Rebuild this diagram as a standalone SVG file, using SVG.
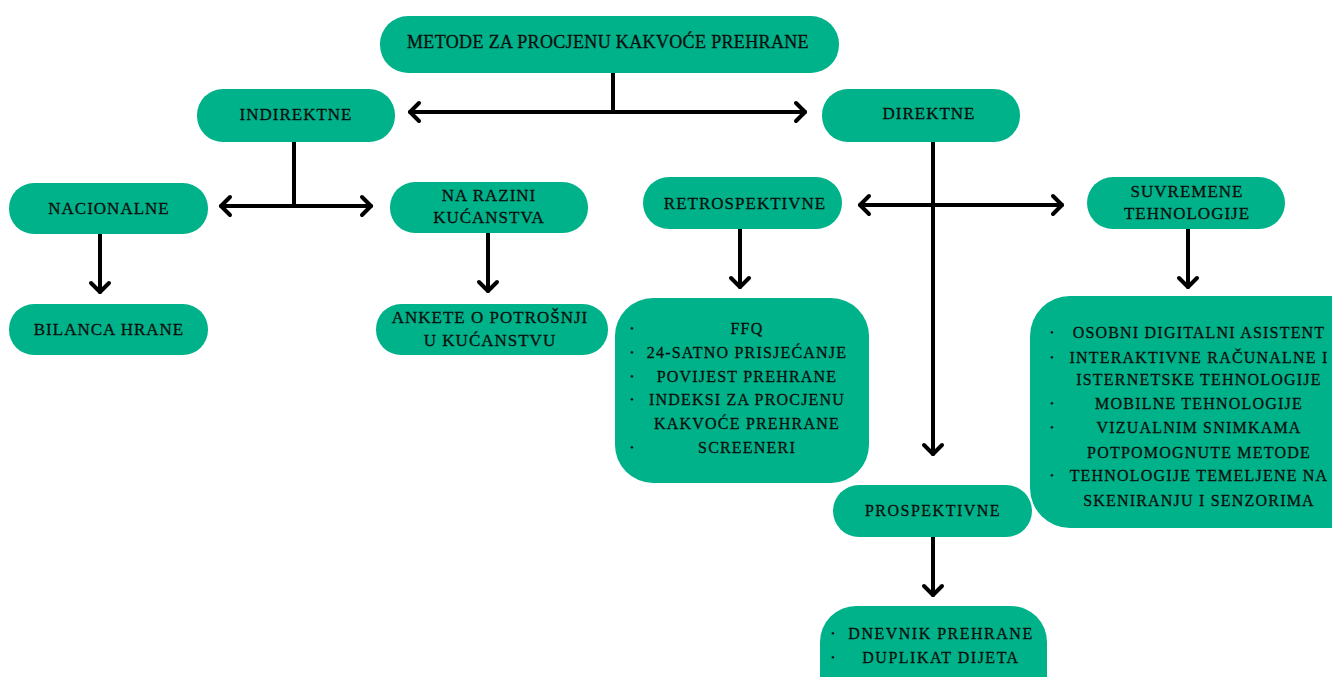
<svg xmlns="http://www.w3.org/2000/svg" width="1332" height="677" viewBox="0 0 1332 677">
  <style>
    .box { fill: #00B28A; }
    .t { font-family: "Liberation Serif", "Times New Roman", serif; font-size: 17px; fill: #0a0f0d; stroke: #0a0f0d; stroke-width: 0.3px; text-anchor: middle; letter-spacing: 1px; }
    .root { font-size: 18px; letter-spacing: 0.35px; }
    .l { font-family: "Liberation Serif", "Times New Roman", serif; font-size: 16px; fill: #0a0f0d; stroke: #0a0f0d; stroke-width: 0.3px; text-anchor: middle; letter-spacing: 1.2px; }
    .b { font-family: "Liberation Serif", "Times New Roman", serif; font-size: 11px; fill: #0a0f0d; text-anchor: middle; }
    .c { fill: none; stroke: #000; stroke-width: 4; stroke-linecap: round; stroke-linejoin: round; }
  </style>
  <defs>
    <marker id="ah" markerUnits="userSpaceOnUse" viewBox="-12 -12 16 24" markerWidth="16" markerHeight="24" refX="0" refY="0" orient="auto-start-reverse">
      <path d="M-9,-9 L0,0 L-9,9" fill="none" stroke="#000" stroke-width="4" stroke-linecap="round" stroke-linejoin="round"/>
    </marker>
  </defs>
  <rect width="1332" height="677" fill="#ffffff"/>

  <g id="connectors">
    <path class="c" d="M613,73 V112"/>
    <path class="c" d="M410,112 H805" marker-start="url(#ah)" marker-end="url(#ah)"/>
    <path class="c" d="M294,142 V206"/>
    <path class="c" d="M221,206 H371" marker-start="url(#ah)" marker-end="url(#ah)"/>
    <path class="c" d="M100,234 V292" marker-end="url(#ah)"/>
    <path class="c" d="M488,233 V291" marker-end="url(#ah)"/>
    <path class="c" d="M933,142 V454" marker-end="url(#ah)"/>
    <path class="c" d="M860,205 H1062" marker-start="url(#ah)" marker-end="url(#ah)"/>
    <path class="c" d="M740,229 V287" marker-end="url(#ah)"/>
    <path class="c" d="M1188,229 V287" marker-end="url(#ah)"/>
    <path class="c" d="M933,537 V595" marker-end="url(#ah)"/>
  </g>

  <g id="root">
    <rect class="box" x="380" y="16" width="459" height="57" rx="28"/>
    <text class="t root" x="608" y="48">METODE ZA PROCJENU KAKVOĆE PREHRANE</text>
  </g>

  <g id="indirektne">
    <rect class="box" x="197" y="89" width="198" height="53" rx="26"/>
    <text class="t" x="296" y="120">INDIREKTNE</text>
  </g>

  <g id="direktne">
    <rect class="box" x="822" y="89" width="198" height="53" rx="26"/>
    <text class="t" x="929" y="119">DIREKTNE</text>
  </g>

  <g id="nacionalne">
    <rect class="box" x="9" y="183" width="199" height="51" rx="25"/>
    <text class="t" x="109" y="214">NACIONALNE</text>
  </g>

  <g id="na-razini">
    <rect class="box" x="390" y="182" width="198" height="51" rx="25"/>
    <text class="t" x="489" y="201">NA RAZINI</text>
    <text class="t" x="489" y="223">KUĆANSTVA</text>
  </g>

  <g id="bilanca">
    <rect class="box" x="9" y="304" width="199" height="51" rx="25"/>
    <text class="t" x="109" y="335">BILANCA HRANE</text>
  </g>

  <g id="ankete">
    <rect class="box" x="376" y="304" width="232" height="51" rx="25"/>
    <text class="t" x="490" y="323">ANKETE O POTROŠNJI</text>
    <text class="t" x="490" y="346">U KUĆANSTVU</text>
  </g>

  <g id="retrospektivne">
    <rect class="box" x="643" y="177" width="199" height="52" rx="26"/>
    <text class="t" x="745" y="209">RETROSPEKTIVNE</text>
  </g>

  <g id="suvremene">
    <rect class="box" x="1087" y="177" width="198" height="52" rx="26"/>
    <text class="t" x="1187" y="197">SUVREMENE</text>
    <text class="t" x="1187" y="219">TEHNOLOGIJE</text>
  </g>

  <g id="retro-list">
    <rect class="box" x="615" y="298" width="254" height="185" rx="38"/>
    <text class="b" x="632" y="332">•</text>
    <text class="b" x="632" y="356">•</text>
    <text class="b" x="632" y="380">•</text>
    <text class="b" x="632" y="403">•</text>
    <text class="b" x="632" y="451">•</text>
    <text class="l" x="747" y="334">FFQ</text>
    <text class="l" x="747" y="358">24-SATNO PRISJEĆANJE</text>
    <text class="l" x="747" y="382">POVIJEST PREHRANE</text>
    <text class="l" x="747" y="405">INDEKSI ZA PROCJENU</text>
    <text class="l" x="747" y="429">KAKVOĆE PREHRANE</text>
    <text class="l" x="747" y="453">SCREENERI</text>
  </g>

  <g id="suvremene-list">
    <rect class="box" x="1030" y="296" width="340" height="232" rx="40"/>
    <text class="b" x="1052" y="336">•</text>
    <text class="b" x="1052" y="361">•</text>
    <text class="b" x="1052" y="407">•</text>
    <text class="b" x="1052" y="431">•</text>
    <text class="b" x="1052" y="479">•</text>
    <text class="l" x="1199" y="338">OSOBNI DIGITALNI ASISTENT</text>
    <text class="l" x="1199" y="363">INTERAKTIVNE RAČUNALNE I</text>
    <text class="l" x="1199" y="385">ISTERNETSKE TEHNOLOGIJE</text>
    <text class="l" x="1199" y="409">MOBILNE TEHNOLOGIJE</text>
    <text class="l" x="1199" y="433">VIZUALNIM SNIMKAMA</text>
    <text class="l" x="1199" y="458">POTPOMOGNUTE METODE</text>
    <text class="l" x="1199" y="481">TEHNOLOGIJE TEMELJENE NA</text>
    <text class="l" x="1199" y="506">SKENIRANJU I SENZORIMA</text>
  </g>

  <g id="prospektivne">
    <rect class="box" x="833" y="485" width="199" height="52" rx="26"/>
    <text class="l" x="933" y="516" style="letter-spacing:1.5px">PROSPEKTIVNE</text>
  </g>

  <g id="prospektivne-list">
    <rect class="box" x="820" y="606" width="227" height="110" rx="36"/>
    <text class="b" x="833" y="637">•</text>
    <text class="b" x="833" y="661">•</text>
    <text class="l" x="941" y="639" style="letter-spacing:1.5px">DNEVNIK PREHRANE</text>
    <text class="l" x="941" y="663" style="letter-spacing:1.5px">DUPLIKAT DIJETA</text>
  </g>
</svg>
